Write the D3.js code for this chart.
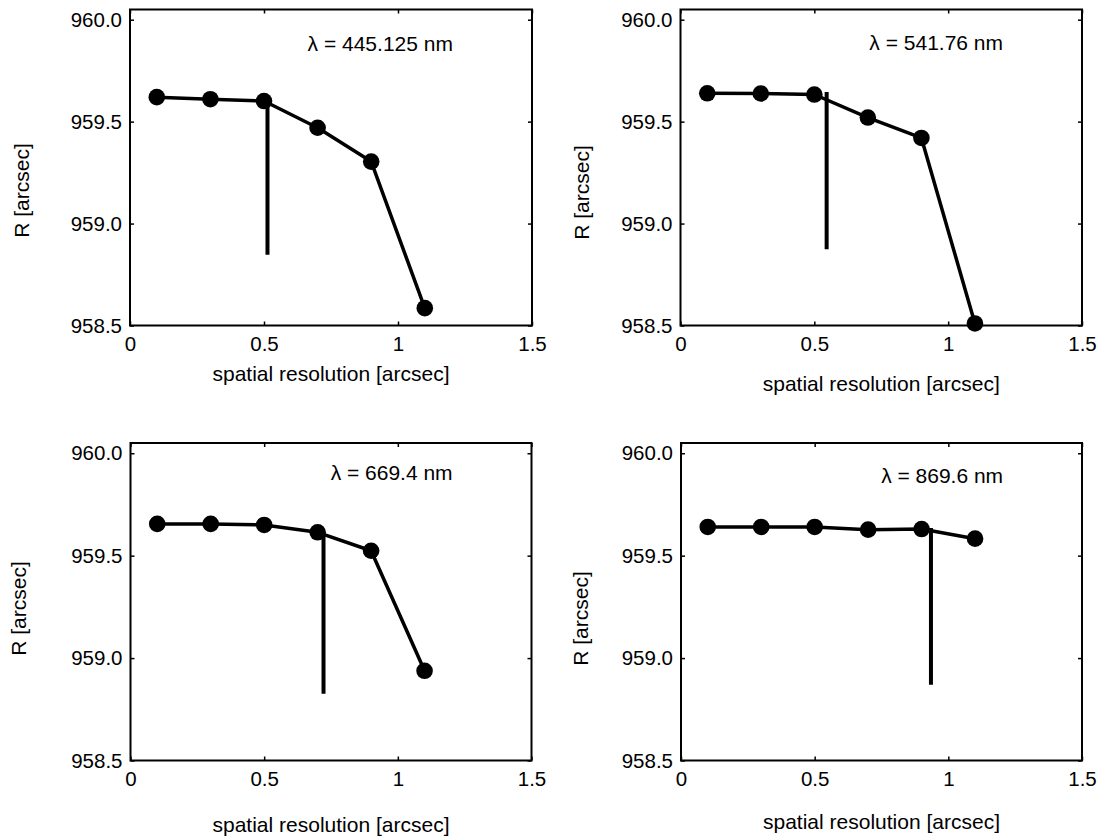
<!DOCTYPE html>
<html>
<head>
<meta charset="utf-8">
<script src="https://cdn.jsdelivr.net/npm/d3@7"></script>
<style>
    body { margin: 0; background: #fff; }
    text { font-family: "Liberation Sans", Arial, sans-serif; fill: #000; }
</style>
</head>
<body>
<script>
// spatial resolution samples [arcsec]
const resolution = [0.1, 0.3, 0.5, 0.7, 0.9, 1.1];

// solar radius R [arcsec] per wavelength
const radius445 = [959.620, 959.610, 959.601, 959.470, 959.304, 958.585];
const radius541 = [959.639, 959.638, 959.633, 959.520, 959.420, 958.510];
const radius669 = [959.655, 959.655, 959.650, 959.614, 959.524, 958.938];
const radius869 = [959.640, 959.640, 959.640, 959.627, 959.630, 959.583];

const wavelengthLabels = ["λ = 445.125 nm", "λ = 541.76 nm", "λ = 669.4 nm", "λ = 869.6 nm"];

// vertical marker line: x, top, bottom
const cutX = [0.513, 0.546, 0.722, 0.935];
const cutTop = [959.58, 959.645, 959.61, 959.635];
const cutBottom = [958.847, 958.874, 958.826, 958.870];

const xTicks = [0, 0.5, 1, 1.5];
const yTicks = [958.5, 959.0, 959.5, 960.0];

const series = [radius445, radius541, radius669, radius869];

// panel boxes and label positions (pixels)
const panels = [
    {x: 130, y: 9.5, w: 402, h: 316, labY: 959.844, xlabY: 381, ylabX: 29, ylabY: 190.5},
    {x: 680.5, y: 9.5, w: 401.5, h: 316, labY: 959.849, xlabY: 391, ylabX: 589, ylabY: 192.5},
    {x: 130.5, y: 443, w: 401, h: 317.5, labY: 959.871, xlabY: 832, ylabX: 25.5, ylabY: 608.5},
    {x: 681, y: 443, w: 401, h: 317.5, labY: 959.856, xlabY: 829, ylabX: 587.5, ylabY: 618.5}
];

const width = 1099, height = 836;

const svg = d3.select("body")
    .append("svg")
    .attr("width", width)
    .attr("height", height);

panels.forEach((p, i) => {
    const x = d3.scaleLinear().domain([0, 1.5]).range([0, p.w]);
    const y = d3.scaleLinear().domain([958.5, 960.05]).range([p.h, 0]);

    const g = svg.append("g").attr("transform", `translate(${p.x},${p.y})`);

    // ticks on all four sides, pointing in
    const fmtY = d3.format(".1f");
    g.append("g")
        .call(d3.axisLeft(y).tickValues(yTicks).tickFormat(fmtY)
            .tickSizeInner(-4).tickSizeOuter(0).tickPadding(8))
        .call(a => a.select(".domain").remove());
    g.append("g")
        .attr("transform", `translate(${p.w},0)`)
        .call(d3.axisRight(y).tickValues(yTicks).tickFormat("")
            .tickSizeInner(-4).tickSizeOuter(0))
        .call(a => a.select(".domain").remove());
    g.append("g")
        .attr("transform", `translate(0,${p.h})`)
        .call(d3.axisBottom(x).tickValues(xTicks).tickFormat(d3.format("~g"))
            .tickSizeInner(-4).tickSizeOuter(0).tickPadding(11))
        .call(a => a.select(".domain").remove());
    g.append("g")
        .call(d3.axisTop(x).tickValues(xTicks).tickFormat("")
            .tickSizeInner(-4).tickSizeOuter(0))
        .call(a => a.select(".domain").remove());

    g.selectAll(".tick line").attr("stroke", "#000").attr("stroke-width", 1.5);
    g.selectAll(".tick text")
        .style("font-size", "20.5px")
        .style("font-family", "'Liberation Sans', Arial, sans-serif");

    g.append("rect")
        .attr("width", p.w)
        .attr("height", p.h)
        .attr("fill", "none")
        .attr("stroke", "#000")
        .attr("stroke-width", 2);

    const pts = resolution.map((r, k) => [r, series[i][k]]);

    const line = d3.line().x(d => x(d[0])).y(d => y(d[1]));
    g.append("path")
        .attr("d", line(pts))
        .attr("fill", "none")
        .attr("stroke", "#000")
        .attr("stroke-width", 3.5)
        .attr("stroke-linejoin", "round");

    g.append("line")
        .attr("x1", x(cutX[i])).attr("x2", x(cutX[i]))
        .attr("y1", y(cutTop[i])).attr("y2", y(cutBottom[i]))
        .attr("stroke", "#000")
        .attr("stroke-width", 4);

    g.selectAll("circle")
        .data(pts)
        .join("circle")
        .attr("cx", d => x(d[0]))
        .attr("cy", d => y(d[1]))
        .attr("r", 8.3)
        .attr("fill", "#000");

    g.append("text")
        .attr("x", x(1.205))
        .attr("y", y(p.labY))
        .attr("text-anchor", "end")
        .style("font-size", "21px")
        .text(wavelengthLabels[i]);

    svg.append("text")
        .attr("x", p.x + p.w / 2)
        .attr("y", p.xlabY)
        .attr("text-anchor", "middle")
        .style("font-size", "21px")
        .text("spatial resolution [arcsec]");

    svg.append("text")
        .attr("transform", `translate(${p.ylabX},${p.ylabY}) rotate(-90)`)
        .attr("text-anchor", "middle")
        .style("font-size", "21px")
        .text("R [arcsec]");
});
</script>
</body>
</html>
